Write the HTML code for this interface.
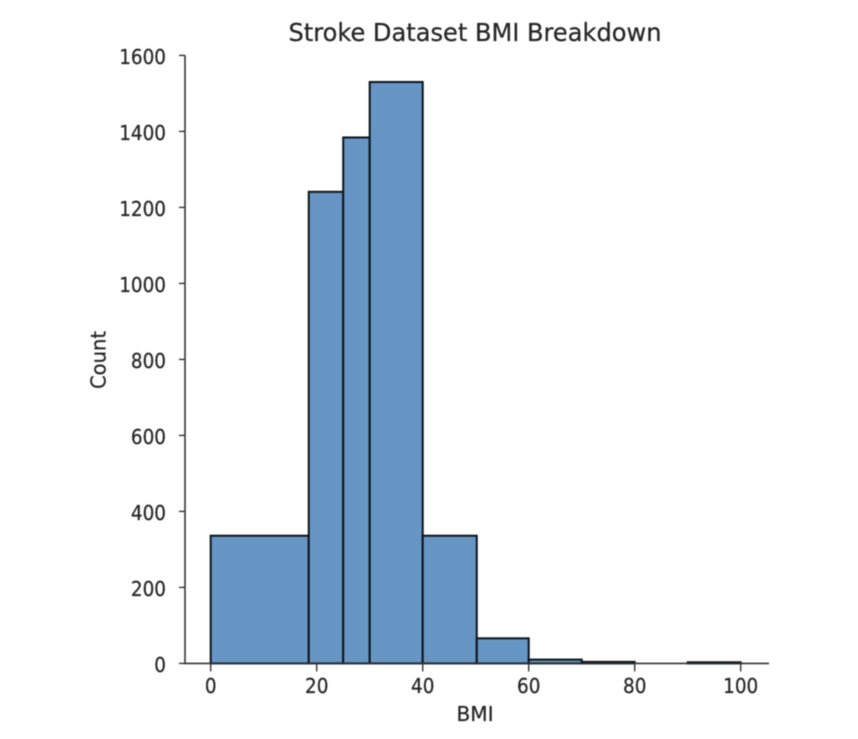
<!DOCTYPE html>
<html>
<head>
<meta charset="utf-8">
<style>
html,body{margin:0;padding:0;background:#fff;width:858px;height:739px;overflow:hidden}
svg{display:block;filter:blur(0.5px)}
text{font-family:"DejaVu Sans","Liberation Sans",sans-serif;fill:#262626;stroke:#262626;stroke-width:0.25px}
</style>
</head>
<body>
<svg id="chart" width="858" height="739" viewBox="0 0 858 739" xmlns="http://www.w3.org/2000/svg">
<rect x="0" y="0" width="858" height="739" fill="#ffffff"/>
<g id="bars"></g>
<g id="axes"></g>
<text x="475" y="41" text-anchor="middle" font-size="24.5" textLength="373" lengthAdjust="spacingAndGlyphs">Stroke Dataset BMI Breakdown</text>
<text x="475" y="721" text-anchor="middle" font-size="20" textLength="37" lengthAdjust="spacingAndGlyphs">BMI</text>
<text transform="translate(105.5 360) rotate(-90)" text-anchor="middle" font-size="20.5" textLength="58" lengthAdjust="spacingAndGlyphs">Count</text>
</svg>
<script>
var binEdges = [0, 18.5, 25, 30, 40, 50.2, 60, 70, 80, 90, 100];
var binCounts = [336, 1241, 1384, 1530, 336, 66, 10, 4, 0, 3];
var xTicks = [0, 20, 40, 60, 80, 100];
var yTicks = [0, 200, 400, 600, 800, 1000, 1200, 1400, 1600];

var NS = 'http://www.w3.org/2000/svg';
function xScale(v) { return 210.7 + v * 5.3; }
function yScale(v) { return 663.4 - v * 0.38; }
function make(tag, attrs) {
  var el = document.createElementNS(NS, tag);
  for (var k in attrs) el.setAttribute(k, attrs[k]);
  return el;
}
var barsGroup = document.getElementById('bars');
var axesGroup = document.getElementById('axes');

binCounts.forEach(function (count, i) {
  if (count <= 0) return;
  var x0 = xScale(binEdges[i]);
  var x1 = xScale(binEdges[i + 1]);
  var y1 = yScale(count);
  var bar = make('rect', {
    x: x0, y: y1, width: x1 - x0, height: yScale(0) - y1,
    fill: '#6796c4', stroke: '#0b141c', 'stroke-width': 2
  });
  
  
  barsGroup.appendChild(bar);
});

var ySpine = make('line', { x1: 185, x2: 185, y1: yScale(1600), y2: yScale(0), stroke: '#333333', 'stroke-width': 1.6 });


axesGroup.appendChild(ySpine);

var xSpine = make('line', { x1: 184, x2: 769, y1: yScale(0), y2: yScale(0), stroke: '#333333', 'stroke-width': 1.6 });


axesGroup.appendChild(xSpine);

yTicks.forEach(function (t) {
  var y = yScale(t);
  var mark = make('line', { x1: 179, x2: 185, y1: y, y2: y, stroke: '#333333', 'stroke-width': 1.4 });
  
  
  axesGroup.appendChild(mark);
  var label = make('text', { x: 166, y: y + 8.5, 'text-anchor': 'end', 'font-size': 20, textLength: String(t).length * 11.7, lengthAdjust: 'spacingAndGlyphs' });
  label.textContent = String(t);
  
  
  axesGroup.appendChild(label);
});

xTicks.forEach(function (t) {
  var x = xScale(t);
  var mark = make('line', { x1: x, x2: x, y1: yScale(0), y2: yScale(0) + 8, stroke: '#333333', 'stroke-width': 1.4 });
  
  
  axesGroup.appendChild(mark);
  var label = make('text', { x: x, y: 693, 'text-anchor': 'middle', 'font-size': 20, textLength: String(t).length * 11.7, lengthAdjust: 'spacingAndGlyphs' });
  label.textContent = String(t);
  
  
  axesGroup.appendChild(label);
});
</script>
</body>
</html>
